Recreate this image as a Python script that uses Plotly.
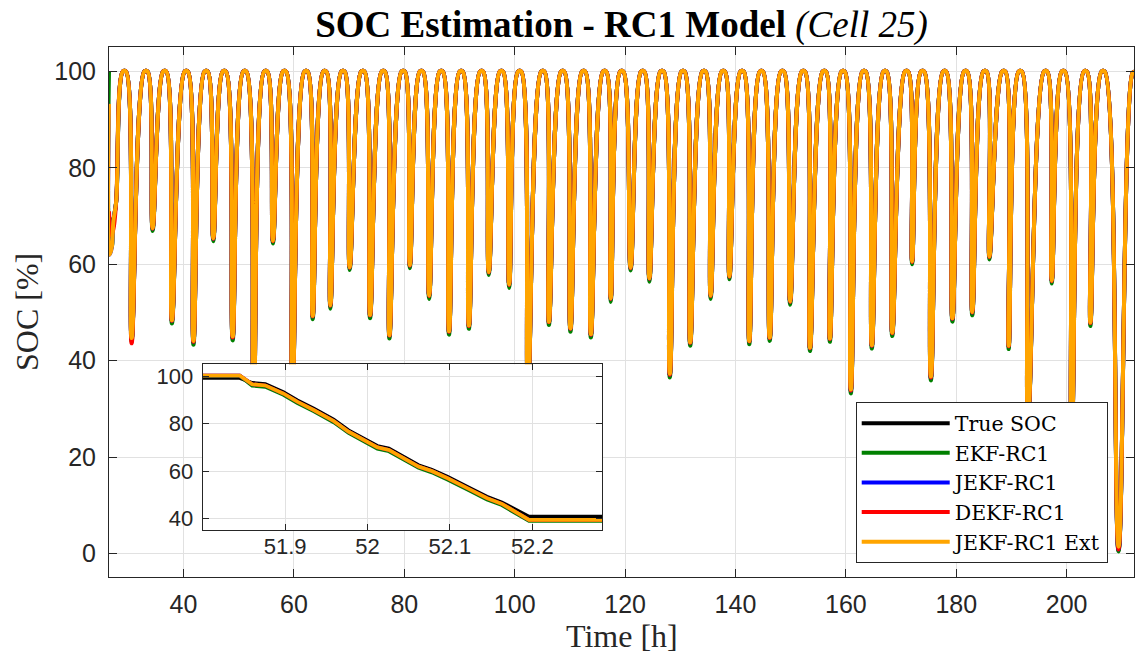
import plotly.graph_objects as go

# ---------------- data ----------------
# time at which charging reaches ~100 % before each discharge, hours
full_t = [29.0, 32.9, 36.3, 40.2, 43.8, 47.1, 50.8, 54.6, 58.0, 61.9,
          65.3, 68.6, 72.2, 75.9, 79.5, 82.8, 86.4, 90.0, 93.7, 97.3,
          100.6, 104.8, 108.4, 112.2, 116.0, 119.1, 122.9, 126.4, 130.2, 134.0,
          137.5, 140.9, 144.4, 148.2, 152.0, 155.8, 159.2, 163.0, 166.8, 170.7,
          173.6, 177.6, 181.4, 184.9, 188.3, 191.3, 195.9, 199.1, 203.1, 206.3]
# time at which each discharge starts from ~100 %, hours
dis_t = [29.6, 33.5, 36.9, 40.8, 44.4, 47.7, 51.4, 55.2, 58.6, 62.5,
         65.9, 69.2, 72.8, 76.5, 80.1, 83.4, 87.0, 90.6, 94.3, 97.9,
         101.2, 105.4, 109.0, 112.8, 116.6, 119.7, 123.5, 127.0, 130.8, 134.6,
         138.1, 141.5, 145.0, 148.8, 152.6, 156.4, 159.8, 163.6, 167.4, 171.3,
         174.2, 178.2, 182.0, 185.5, 188.9, 191.9, 196.5, 199.7, 203.7, 206.9]
# time of each discharge minimum, hours
min_t = [30.6, 34.4, 37.9, 41.8, 45.4, 48.9, 52.7, 56.2, 59.7, 63.4,
         66.6, 70.1, 73.8, 77.3, 81.0, 84.5, 88.1, 91.7, 95.3, 99.0,
         102.4, 106.2, 110.1, 113.8, 117.4, 121.0, 124.4, 128.1, 131.8, 135.5,
         138.9, 142.5, 146.2, 149.9, 153.5, 157.1, 160.9, 164.7, 168.4, 172.0,
         175.4, 179.3, 182.9, 186.0, 189.5, 193.0, 197.3, 200.9, 204.3, 209.4]
# SOC at each minimum, % (one list per curve)
true_min = [44.5, 67.4, 48.3, 43.9, 65.3, 44.8, 30.0, 64.8, 31.0, 49.2,
            51.4, 59.3, 49.4, 45.2, 59.7, 53.4, 46.0, 47.2, 58.3, 55.7,
            34.0, 48.0, 46.6, 45.4, 52.8, 59.2, 57.0, 37.1, 43.7, 53.4,
            57.4, 44.0, 44.7, 52.2, 42.6, 44.5, 33.8, 43.1, 45.7, 60.5,
            36.5, 48.7, 50.0, 61.5, 43.0, 28.0, 56.5, 24.0, 47.8, 0.6]
ekf_min = [44.0, 66.9, 47.7, 43.3, 64.8, 44.2, 29.4, 64.3, 30.4, 48.6,
           50.8, 58.8, 48.8, 44.6, 59.2, 52.8, 45.4, 46.6, 57.8, 55.1,
           33.4, 47.4, 46.0, 44.8, 52.2, 58.7, 56.4, 36.5, 43.1, 52.8,
           56.9, 43.4, 44.1, 51.6, 42.0, 43.9, 33.2, 42.5, 45.1, 60.0,
           35.9, 48.1, 49.4, 61.0, 42.4, 27.4, 56.0, 23.4, 47.2, 0.4]
jekf_min = [44.5, 67.4, 48.3, 43.9, 65.3, 44.8, 30.0, 64.8, 31.0, 49.2,
            51.4, 59.3, 49.4, 45.2, 59.7, 53.4, 46.0, 47.2, 58.3, 55.7,
            34.0, 48.0, 46.6, 45.4, 52.8, 59.2, 57.0, 37.1, 43.7, 53.4,
            57.4, 44.0, 44.7, 52.2, 42.6, 44.5, 33.8, 43.1, 45.7, 60.5,
            36.5, 48.7, 50.0, 61.5, 43.0, 28.0, 56.5, 24.0, 47.8, 0.8]
dekf_min = [43.6, 67.4, 48.3, 43.9, 65.3, 44.8, 30.0, 64.8, 31.0, 49.2,
            51.4, 59.3, 49.4, 45.2, 59.7, 53.4, 46.0, 47.2, 58.3, 55.7,
            34.0, 48.0, 46.6, 45.4, 52.8, 59.2, 57.0, 37.1, 43.7, 53.4,
            57.4, 44.0, 44.7, 52.2, 42.6, 44.5, 33.8, 43.1, 45.7, 60.5,
            36.5, 48.7, 50.0, 61.5, 43.0, 28.0, 56.5, 24.0, 47.8, 0.8]
ext_min = [44.7, 67.5, 48.4, 44.1, 65.4, 45.0, 30.2, 64.9, 31.2, 49.3,
           51.5, 59.4, 49.5, 45.3, 59.8, 53.5, 46.1, 47.3, 58.4, 55.8,
           34.2, 48.1, 46.7, 45.5, 52.9, 59.3, 57.1, 37.3, 43.8, 53.5,
           57.5, 44.1, 44.8, 52.3, 42.7, 44.6, 34.0, 43.2, 45.8, 60.6,
           36.7, 48.8, 50.1, 61.6, 43.1, 28.2, 56.6, 24.2, 47.9, 1.4]

# first samples (filter start-up) and last samples
true_start_t, true_start_soc = [26.5, 27.3, 27.8], [68.0, 69.5, 73.0]
ekf_start_t, ekf_start_soc = [26.5, 26.55, 27.0, 27.3, 27.8], [100.0, 66.0, 63.5, 69.0, 73.0]
jekf_start_t, jekf_start_soc = [26.5, 26.6, 27.0, 27.3, 27.8], [93.3, 62.0, 63.5, 69.0, 73.0]
dekf_start_t, dekf_start_soc = [26.5, 26.9, 27.3, 27.8], [71.0, 66.0, 67.3, 73.0]
ext_start_t, ext_start_soc = [26.5, 26.6, 27.0, 27.3, 27.8], [93.3, 62.0, 63.5, 69.0, 73.0]
end_t, end_soc = [211.9, 212.3], [99.6, 100.0]

# inset (zoomed discharge)
inset_t = [51.800, 51.845, 51.860, 51.876, 51.898, 51.915, 51.935, 51.959, 51.977, 52.000,
           52.012, 52.026, 52.044, 52.062, 52.078, 52.097, 52.125, 52.145, 52.163, 52.196, 52.285]
inset_true = [99.2, 99.2, 97.2, 96.7, 93.3, 89.8, 86.3, 81.7, 77.2, 73.0,
              70.6, 69.5, 66.0, 62.5, 60.6, 57.6, 52.7, 49.2, 46.8, 40.8, 40.8]
inset_ekf = [100.0, 100.0, 96.0, 95.5, 92.1, 88.6, 85.1, 80.5, 76.0, 71.8,
             69.4, 68.3, 64.8, 61.3, 59.4, 56.4, 51.5, 48.0, 45.6, 38.9, 38.9]
inset_jekf = [100.3, 100.3, 96.6, 96.1, 92.7, 89.2, 85.7, 81.1, 76.6, 72.4,
              70.0, 68.9, 65.4, 61.9, 60.0, 57.0, 52.1, 48.6, 46.2, 39.4, 39.4]
inset_dekf = [100.3, 100.3, 96.6, 96.1, 92.7, 89.2, 85.7, 81.1, 76.6, 72.4,
              70.0, 68.9, 65.4, 61.9, 60.0, 57.0, 52.1, 48.6, 46.2, 39.4, 39.4]
inset_ext = [100.3, 100.3, 96.6, 96.1, 92.7, 89.2, 85.7, 81.1, 76.6, 72.4,
             70.0, 68.9, 65.4, 61.9, 60.0, 57.0, 52.1, 48.6, 46.2, 39.4, 39.4]

names = ["True SOC", "EKF-RC1", "JEKF-RC1", "DEKF-RC1", "JEKF-RC1 Ext"]
colors = ["#000000", "#008000", "#0000ff", "#ff0000", "#ffa500"]

x_ticks = [40, 60, 80, 100, 120, 140, 160, 180, 200]
y_ticks = [0, 20, 40, 60, 80, 100]
inset_xticks = [51.9, 52.0, 52.1, 52.2]
inset_xlabels = ["51.9", "52", "52.1", "52.2"]
inset_yticks = [40, 60, 80, 100]


def build(start_t, start_soc, mins):
    xs, ys = list(start_t), list(start_soc)
    for f, d, tm, m in zip(full_t, dis_t, min_t, mins):
        xs += [f, d, tm]
        ys += [100.0, 100.0, m]
    xs += end_t
    ys += end_soc
    return xs, ys


series = [
    build(true_start_t, true_start_soc, true_min),
    build(ekf_start_t, ekf_start_soc, ekf_min),
    build(jekf_start_t, jekf_start_soc, jekf_min),
    build(dekf_start_t, dekf_start_soc, dekf_min),
    build(ext_start_t, ext_start_soc, ext_min),
]
inset_series = [inset_true, inset_ekf, inset_jekf, inset_dekf, inset_ext]

fig = go.Figure()
for (xs, ys), n, c in zip(series, names, colors):
    fig.add_trace(go.Scatter(x=xs, y=ys, mode="lines", name=n,
                             line=dict(color=c, width=4, shape="spline", smoothing=1),
                             xaxis="x", yaxis="y"))
for ys, n, c in zip(inset_series, names, colors):
    fig.add_trace(go.Scatter(x=inset_t, y=ys, mode="lines", name=n, showlegend=False,
                             line=dict(color=c, width=3.6), xaxis="x2", yaxis="y2"))

axis_common = dict(showline=True, linecolor="#262626", linewidth=1, mirror="ticks",
                   ticks="inside", ticklen=8, tickwidth=1, tickcolor="#262626",
                   showgrid=True, gridcolor="#e1e1e1", gridwidth=1, zeroline=False,
                   automargin=False,
                   tickfont=dict(family="Liberation Sans, Arial", size=25, color="#262626"))
inset_common = dict(axis_common)
inset_common["tickfont"] = dict(family="Liberation Sans, Arial", size=22, color="#262626")
inset_common["ticklen"] = 6

serif = "Liberation Serif, Times New Roman"

fig.update_layout(
    width=1139, height=663,
    margin=dict(l=109, r=5, t=47, b=86, autoexpand=False),
    paper_bgcolor="white", plot_bgcolor="white",
    showlegend=True,
    title=dict(text="<b>SOC Estimation - RC1 Model</b> <i>(Cell 25)</i>",
               x=0.5, xref="paper", xanchor="center", y=1 - 24 / 663, yref="container",
               yanchor="middle",
               font=dict(family=serif, size=37, color="#000000")),
    xaxis=dict(domain=[0, 1], range=[26.5, 212.2], tickvals=x_ticks, ticklabelstandoff=5,
               **axis_common),
    yaxis=dict(domain=[0, 1], range=[-4.9, 105.1], tickvals=y_ticks, ticklabelstandoff=7,
               **axis_common),
    xaxis2=dict(domain=[0.0914, 0.4813], anchor="y2", range=[51.8, 52.285],
                tickvals=inset_xticks, ticktext=inset_xlabels, ticklabelstandoff=-4,
                **inset_common),
    yaxis2=dict(domain=[0.0881, 0.4013], anchor="x2", range=[35, 105],
                tickvals=inset_yticks, ticklabelstandoff=4, **inset_common),
    legend=dict(x=0.7285, y=0.3296, xanchor="left", yanchor="top",
                bgcolor="white", bordercolor="#262626", borderwidth=1,
                font=dict(family="DejaVu Serif", size=20.5, color="#000000"),
                itemwidth=88, tracegroupgap=0),
    annotations=[
        dict(text="Time [h]", xref="paper", yref="paper", x=0.5, y=(577 - 636) / 530,
             xanchor="center", yanchor="middle", showarrow=False,
             font=dict(family=serif, size=32, color="#262626")),
        dict(text="SOC [%]", xref="paper", yref="paper", x=(27 - 109) / 1025, y=0.5,
             xanchor="center", yanchor="middle", showarrow=False, textangle=-90,
             font=dict(family=serif, size=32, color="#262626")),
    ],
)

fig.write_html("out.html",
               config={"displayModeBar": False},
               post_script="document.body.style.margin='0';document.body.style.padding='0';"
                           "document.body.style.overflow='hidden';")
